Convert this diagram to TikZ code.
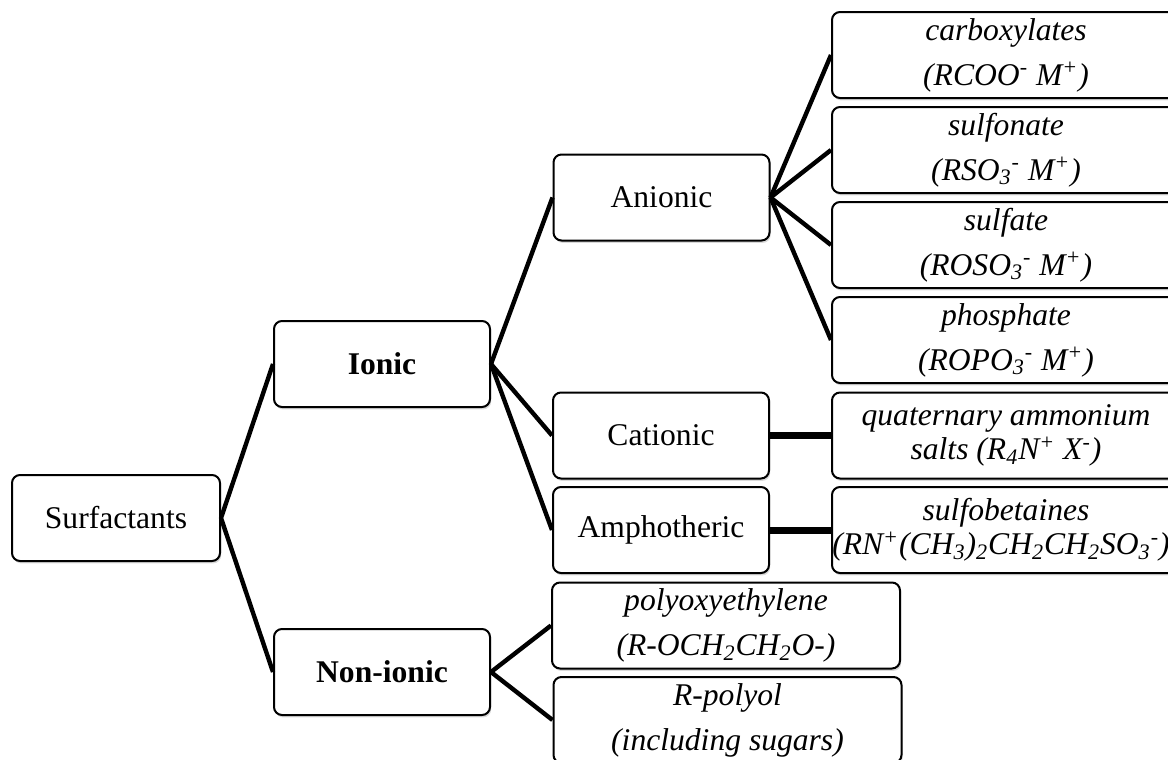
\documentclass[tikz,border=0pt]{standalone}
\usepackage{fontspec}
\setmainfont{Liberation Serif}
\usetikzlibrary{shadows}

\begin{document}
\begin{tikzpicture}[x=0.5pt,y=0.5pt,yscale=-1,
  box/.style={draw, line width=1pt, rounded corners=4pt, fill=white, align=center, inner sep=0pt,
    minimum height=43pt, font=\fontsize{15.8}{22.5}\selectfont,
    drop shadow={opacity=0.3, shadow xshift=0.6pt, shadow yshift=-1.2pt}},
  midbox/.style={box, minimum width=108pt},
  widebox/.style={box, minimum width=174pt, font=\fontsize{15.8}{22.5}\selectfont\itshape},
  tightbox/.style={widebox, font=\fontsize{15.8}{17}\selectfont\itshape},
  link/.style={line width=2.2pt},
  bar/.style={line width=3.5pt}]
\useasboundingbox (0,0) rectangle (1168,760);
\clip (0,0) rectangle (1168,760);

%Rounded Rect
\node[box, minimum width=104pt] (surf) at (116,518) {Surfactants};
%Rounded Rect
\node[midbox] (ionic) at (382,364) {\textbf{Ionic}};
\node[midbox] (nonionic) at (382,672) {\textbf{Non-ionic}};
%Rounded Rect
\node[midbox] (anionic) at (661.5,197.5) {Anionic};
\node[midbox] (cationic) at (661,435.5) {Cationic};
\node[midbox] (amphoteric) at (661,530) {Amphotheric};
%Rounded Rect
\node[widebox] (carbox) at (1006,55) {carboxylates\\(RCOO\textsuperscript{-} M\textsuperscript{+})};
\node[widebox] (sulfonate) at (1006,150) {sulfonate\\(RSO\textsubscript{3}\textsuperscript{-} M\textsuperscript{+})};
\node[widebox] (sulfate) at (1006,245) {sulfate\\(ROSO\textsubscript{3}\textsuperscript{-} M\textsuperscript{+})};
\node[widebox] (phosphate) at (1006,340) {phosphate\\(ROPO\textsubscript{3}\textsuperscript{-} M\textsuperscript{+})};
\node[tightbox] (quaternary) at (1006,435.5) {quaternary ammonium\\salts (R\textsubscript{4}N\textsuperscript{+} X\textsuperscript{-})};
\node[tightbox] (sulfobet) at (1006,530) {sulfobetaines\\(RN\textsuperscript{+}(CH\textsubscript{3})\textsubscript{2}CH\textsubscript{2}CH\textsubscript{2}SO\textsubscript{3}\textsuperscript{-})\hspace*{5pt}};
%Rounded Rect
\node[widebox] (polyoxy) at (726,625.5) {polyoxyethylene\\(R-OCH\textsubscript{2}CH\textsubscript{2}O-)};
\node[widebox] (polyol) at (727.5,720) {R-polyol\\(including sugars)};

%Straight Lines
\draw[link] (surf.east) -- (ionic.west);
\draw[link] (surf.east) -- (nonionic.west);
%Straight Lines
\draw[link] (ionic.east) -- (anionic.west);
\draw[link] (ionic.east) -- (cationic.west);
\draw[link] (ionic.east) -- (amphoteric.west);
%Straight Lines
\draw[link] (anionic.east) -- (carbox.west);
\draw[link] (anionic.east) -- (sulfonate.west);
\draw[link] (anionic.east) -- (sulfate.west);
\draw[link] (anionic.east) -- (phosphate.west);
%Straight Lines
\draw[bar] (cationic.east) -- (quaternary.west);
\draw[bar] (amphoteric.east) -- (sulfobet.west);
%Straight Lines
\draw[link] (nonionic.east) -- (polyoxy.west);
\draw[link] (nonionic.east) -- (polyol.west);

\end{tikzpicture}
\end{document}
